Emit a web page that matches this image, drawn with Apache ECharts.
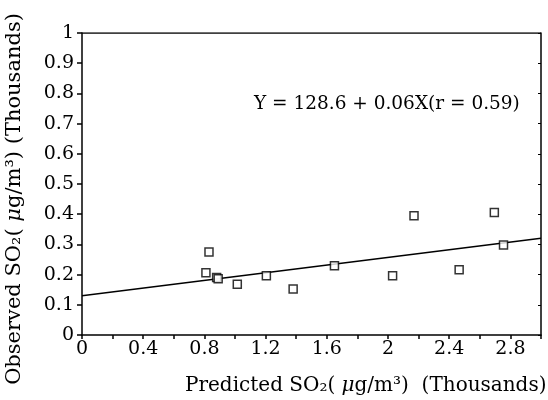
<!DOCTYPE html>
<html>
<head>
<meta charset="utf-8">
<script src="https://cdn.jsdelivr.net/npm/echarts@6/dist/echarts.min.js"></script>
<style>
  html, body { margin: 0; padding: 0; background: #fff; }
  #chart { width: 548px; height: 400px; }
</style>
</head>
<body>
<div id="chart"></div>
<script>
// 观测点（单位：千 μg/m³）
const predicted = [0.83, 0.81, 0.88, 0.89, 1.015, 1.205, 1.38, 1.65, 2.03, 2.17, 2.465, 2.695, 2.755];
const observed = [0.275, 0.206, 0.19, 0.186, 0.168, 0.196, 0.152, 0.229, 0.196, 0.395, 0.216, 0.406, 0.298];

// 回归线两端
const lineX = [0, 3];
const lineY = [0.13, 0.32];

const xTicks = [0, 0.4, 0.8, 1.2, 1.6, 2, 2.4, 2.8];
const yTicks = [0, 0.1, 0.2, 0.3, 0.4, 0.5, 0.6, 0.7, 0.8, 0.9, 1];

const serif = "DejaVu Serif";

const chart = echarts.init(document.getElementById("chart"));

const points = predicted.map((x, i) => [x, observed[i]]);
const linePts = lineX.map((x, i) => [x, lineY[i]]);

const option = {
  animation: false,
  backgroundColor: "#fff",
  grid: { left: 82, right: 7, top: 33, bottom: 65, outerBoundsMode: "none" },
  title: [
    {
      text: "Predicted SO₂( {i|μ}g/m³)  (Thousands)",
      left: 180,
      top: 371,
      textStyle: {
        fontFamily: serif,
        fontSize: 20,
        fontWeight: "normal",
        color: "#000",
        rich: { i: { fontFamily: serif, fontStyle: "italic", fontSize: 20 } },
      },
    },
    {
      text: "Y = 128.6 + 0.06X(r = 0.59)",
      left: 249,
      top: 90,
      textStyle: { fontFamily: serif, fontSize: 18.5, fontWeight: "normal", color: "#000" },
    },
  ],
  xAxis: {
    type: "value",
    min: 0,
    max: 3,
    interval: 0.2,
    axisLine: { show: true, lineStyle: { color: "#000", width: 1.5 } },
    axisTick: { show: true, length: 4, inside: false, lineStyle: { color: "#000", width: 1.5 } },
    splitLine: { show: false },
    axisLabel: {
      color: "#000",
      fontFamily: serif,
      fontSize: 19,
      margin: 5,
      formatter: (v) => {
        const hit = xTicks.find((t) => Math.abs(t - v) < 1e-6);
        return hit === undefined ? "" : String(hit);
      },
    },
  },
  yAxis: [
    {
      type: "value",
      min: 0,
      max: 1,
      interval: 0.1,
      name: "Observed SO₂( {i|μ}g/m³) (Thousands)",
      nameLocation: "middle",
      nameGap: 57,
      nameTextStyle: {
        fontFamily: serif,
        fontSize: 21,
        color: "#000",
        padding: [0, 0, 0, -30],
        rich: { i: { fontFamily: serif, fontStyle: "italic", fontSize: 21 } },
      },
      axisLine: { show: true, lineStyle: { color: "#000", width: 1.5 } },
      axisTick: { show: true, length: 5, lineStyle: { color: "#000", width: 1.5 } },
      splitLine: { show: false },
      axisLabel: {
        color: "#000",
        fontFamily: serif,
        fontSize: 19,
        margin: 8,
        formatter: (v) => {
          const hit = yTicks.find((t) => Math.abs(t - v) < 1e-6);
          return hit === undefined ? "" : String(hit);
        },
      },
    },
    {
      type: "value",
      position: "right",
      min: 0,
      max: 1,
      interval: 0.1,
      axisLine: { show: true, lineStyle: { color: "#000", width: 1.5 } },
      axisTick: { show: true, inside: true, length: 3, lineStyle: { color: "#000", width: 1 } },
      axisLabel: { show: false },
      splitLine: { show: false },
    },
  ],
  series: [
    {
      type: "line",
      data: linePts,
      showSymbol: false,
      lineStyle: { color: "#000", width: 1.5 },
      z: 2,
    },
    {
      type: "scatter",
      data: points,
      symbol: "rect",
      symbolSize: 8,
      itemStyle: { color: "#fff", borderColor: "#000", borderWidth: 1.5 },
      z: 3,
    },
    {
      // 上边框
      type: "line",
      data: [[0, 1], [3, 1]],
      showSymbol: false,
      lineStyle: { color: "#000", width: 1.5 },
      z: 1,
    },
  ],
};

chart.setOption(option);
</script>
</body>
</html>
